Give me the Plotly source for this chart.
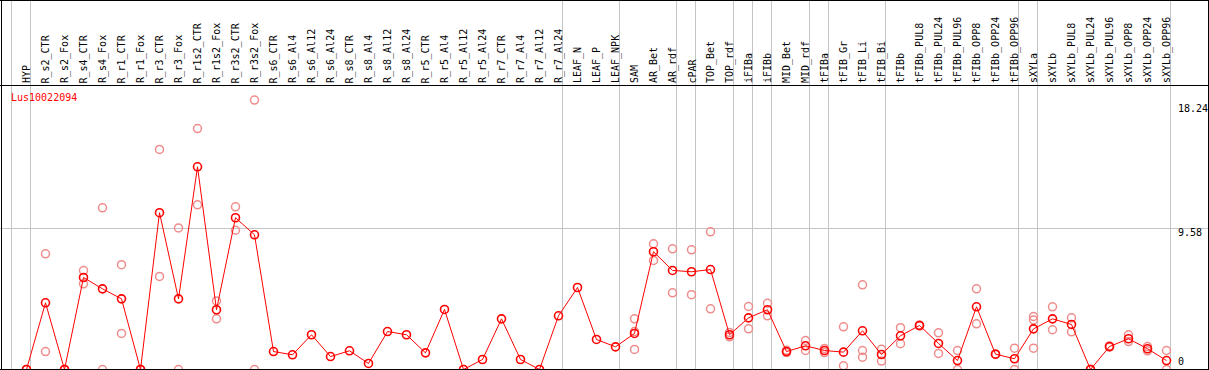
import plotly.graph_objects as go

W, H = 1209, 370

samples = ["HYP", "R_s2_CTR", "R_s2_Fox", "R_s4_CTR", "R_s4_Fox", "R_r1_CTR", "R_r1_Fox",
           "R_r3_CTR", "R_r3_Fox", "R_r1s2_CTR", "R_r1s2_Fox", "R_r3s2_CTR", "R_r3s2_Fox",
           "R_s6_CTR", "R_s6_Al4", "R_s6_Al12", "R_s6_Al24", "R_s8_CTR", "R_s8_Al4", "R_s8_Al12",
           "R_s8_Al24", "R_r5_CTR", "R_r5_Al4", "R_r5_Al12", "R_r5_Al24", "R_r7_CTR", "R_r7_Al4",
           "R_r7_Al12", "R_r7_Al24", "LEAF_N", "LEAF_P", "LEAF_NPK", "SAM", "AR_Bet", "AR_rdf",
           "cPAR", "TOP_Bet", "TOP_rdf", "iFIBa", "iFIBb", "MID_Bet", "MID_rdf", "tFIBa",
           "tFIB_Gr", "tFIB_Li", "tFIB_Bi", "tFIBb", "tFIBb_PUL8", "tFIBb_PUL24", "tFIBb_PUL96",
           "tFIBb_OPP8", "tFIBb_OPP24", "tFIBb_OPP96", "sXYLa", "sXYLb", "sXYLb_PUL8",
           "sXYLb_PUL24", "sXYLb_PUL96", "sXYLb_OPP8", "sXYLb_OPP24", "sXYLb_OPP96"]

means = [0, 4.53, 0, 6.25, 5.48, 4.80, 0, 10.65, 4.80, 13.77, 4.06, 10.31, 9.15,
         1.22, 1.00, 2.36, 0.88, 1.27, 0.41, 2.58, 2.36, 1.13, 4.08, 0, 0.68, 3.44, 0.68,
         0, 3.65, 5.57, 2.04, 1.54, 2.45, 8.00, 6.73, 6.64, 6.79, 2.36, 3.51, 4.06, 1.22,
         1.61, 1.29, 1.18, 2.63, 1.02, 2.29, 2.99, 1.77, 0.61, 4.26, 1.04, 0.73, 2.76,
         3.44, 3.06, 0, 1.56, 2.09, 1.41, 0.61]

replicates = [[0], [7.86, 1.22], [0, 0], [6.72, 5.82], [10.98, 0], [7.12, 2.45], [0, 0],
              [14.95, 6.32], [9.62, 0], [16.37, 11.19], [4.66, 3.44], [11.05, 9.46], [18.3, 0],
              [], [], [], [], [], [], [], [], [], [], [], [], [], [], [], [], [], [], [],
              [3.44, 2.58, 1.36], [8.54, 7.41], [8.20, 5.21], [8.13, 5.08], [9.35, 4.12],
              [2.52, 2.22], [4.28, 2.76], [4.50, 3.65], [1.30, 1.15], [1.97, 1.29],
              [1.43, 1.15], [2.90, 0.25], [5.75, 1.29, 0.84], [1.38, 0.57], [2.84, 1.75],
              [3.02, 2.96], [2.49, 1.09], [1.29, 0], [5.48, 3.10], [1.06, 1.02], [1.45, 0],
              [3.60, 3.37, 1.45], [4.26, 2.70], [3.51, 2.56], [0, 0], [1.60, 1.52],
              [2.36, 1.90], [1.56, 1.27], [1.29, 0]]

group_bounds = [0, 1, 29, 32, 35, 36, 38, 39, 40, 42, 43, 46, 53, 54, 61]
axis_labels = ["18.24", "9.58", "0"]
axis_values = [18.24, 9.58, 0]
gene = "Lus10022094"

FONT = "DejaVu Sans Mono"
STEP = 19.0
X0 = 26.5          # pixel centre of first sample
SCALE = 14.72      # pixels per unit
Y0 = 369.5         # pixel centre of zero

xr = [(0 - X0) / STEP, (W - X0) / STEP]
yr = [(Y0 - H) / SCALE, Y0 / SCALE]

def py(row):
    return 1 - row / H

def px(col):
    return col / W

rx, ry = [], []
for i, reps in enumerate(replicates):
    for v in reps:
        rx.append(i)
        ry.append(v)

fig = go.Figure()
fig.add_trace(go.Scatter(x=rx, y=ry, mode="markers", cliponaxis=False,
                         marker=dict(symbol="circle-open", size=8, color="#F08C8C",
                                     line=dict(width=1.5, color="#F08C8C")),
                         hoverinfo="skip"))
fig.add_trace(go.Scatter(x=list(range(len(samples))), y=means, mode="lines+markers",
                         cliponaxis=False,
                         line=dict(color="#FF0000", width=1),
                         marker=dict(symbol="circle-open", size=8, color="#FF0000",
                                     line=dict(width=1.6, color="#FF0000"))))

shapes = []
grey = "#C4C4C4"
for b in group_bounds:
    xb = b - 15.0 / STEP
    shapes.append(dict(type="line", xref="x", yref="paper", x0=xb, x1=xb, y0=0, y1=1,
                       line=dict(color=grey, width=1), layer="below"))
shapes.append(dict(type="line", xref="paper", yref="y", x0=0, x1=1, y0=axis_values[1],
                   y1=axis_values[1], line=dict(color=grey, width=1), layer="below"))
# borders
blk = "#000000"
shapes.append(dict(type="line", xref="paper", yref="paper", x0=0, x1=1, y0=py(0.5), y1=py(0.5),
                   line=dict(color=blk, width=1)))
shapes.append(dict(type="line", xref="paper", yref="paper", x0=0, x1=1, y0=py(85.5), y1=py(85.5),
                   line=dict(color=blk, width=1)))
shapes.append(dict(type="line", xref="paper", yref="paper", x0=0, x1=1, y0=py(369.5), y1=py(369.5),
                   line=dict(color=blk, width=1)))
shapes.append(dict(type="line", xref="paper", yref="paper", x0=px(1.5), x1=px(1.5), y0=0, y1=1,
                   line=dict(color=blk, width=1)))
shapes.append(dict(type="line", xref="paper", yref="paper", x0=px(1208.5), x1=px(1208.5), y0=0, y1=1,
                   line=dict(color=blk, width=1)))

annotations = []
for i, s in enumerate(samples):
    annotations.append(dict(x=i, xref="x", y=py(84.5), yref="paper", text=s, textangle=-90,
                            xanchor="center", yanchor="bottom", showarrow=False,
                            font=dict(family=FONT, size=10, color="black"), borderpad=0))
label_rows = [108, 232, 361.5]
for t, r in zip(axis_labels, label_rows):
    annotations.append(dict(x=px(1177), xref="paper", y=py(r), yref="paper", text=t,
                            xanchor="left", yanchor="middle", showarrow=False,
                            font=dict(family=FONT, size=10, color="black"), borderpad=0))
annotations.append(dict(x=px(9.5), xref="paper", y=py(97.5), yref="paper", text=gene,
                        xanchor="left", yanchor="middle", showarrow=False,
                        font=dict(family=FONT, size=10, color="#FF0000"), borderpad=0))

fig.update_layout(width=W, height=H, margin=dict(l=0, r=0, t=0, b=0),
                  paper_bgcolor="white", plot_bgcolor="white", showlegend=False,
                  xaxis=dict(range=xr, visible=False, fixedrange=True),
                  yaxis=dict(range=yr, visible=False, fixedrange=True),
                  shapes=shapes, annotations=annotations)

fig.write_html("out.html", config={"displayModeBar": False, "staticPlot": True},
               post_script="document.body.style.margin='0';document.body.style.overflow='hidden';")
